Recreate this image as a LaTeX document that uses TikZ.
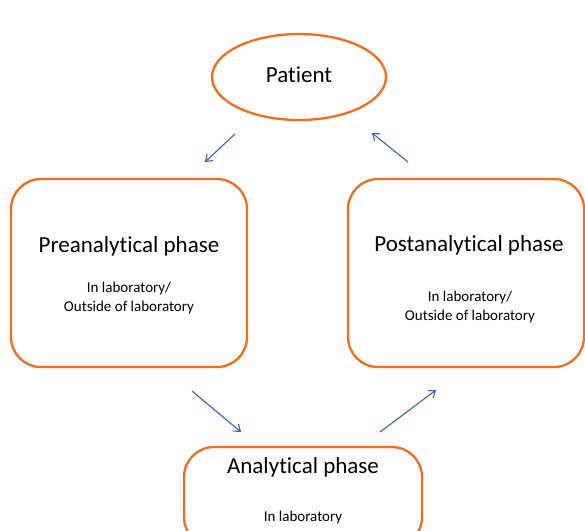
\documentclass[tikz,border=0pt]{standalone}
\usepackage{fontspec}
\setmainfont[Ligatures=NoCommon]{Carlito}
\usetikzlibrary{shapes.geometric,arrows.meta}
\definecolor{phaseorange}{RGB}{247,108,28}
\definecolor{flowblue}{RGB}{52,98,190}
\begin{document}
\begin{tikzpicture}[x=1pt,y=-1pt]
        \tikzstyle{phase}=[rectangle,rounded corners=30pt,draw=phaseorange,line width=2.3pt,fill=white,minimum width=236pt,minimum height=188pt]
        \tikzstyle{title}=[font=\fontsize{23}{26}\selectfont]
        \tikzstyle{place}=[font=\fontsize{15}{19}\selectfont,align=center]
        \tikzstyle{flow}=[draw,flowblue,line width=1.1pt,-{Straight Barb[length=6pt,width=9pt]}]
        \useasboundingbox (0,0) rectangle (585,530);
        \clip (0,0) rectangle (585,530);
       \begin{scope}
        \node [ellipse,draw=phaseorange,line width=2.3pt,minimum width=174pt,minimum height=86pt] (patient) at (299,77) {};
        \node [title] (patientlbl) at (299,75) {Patient};

        \node [phase] (pre) at (129,273) {};
        \node [title] (prelbl) at (129,246) {Preanalytical phase};
        \node [place] (preplace) at (129,298) {In laboratory/\\Outside of laboratory};

        \node [phase] (post) at (466,273) {};
        \node [title] (postlbl) at (469,245) {Postanalytical phase};
        \node [place] (postplace) at (470,307) {In laboratory/\\Outside of laboratory};

        \node [phase,minimum width=238pt,minimum height=100pt] (ana) at (303,497) {};
        \node [title] (analbl) at (303,467) {Analytical phase};
        \node [place] (anaplace) at (303,517) {In laboratory};

        \coordinate (a1) at (235,134);
        \coordinate (b1) at (205,162);
        \coordinate (a2) at (192,391);
        \coordinate (b2) at (241,432);
        \coordinate (a3) at (380,432);
        \coordinate (b3) at (436,390);
        \coordinate (a4) at (408,162);
        \coordinate (b4) at (372,133);

        \path (a1) edge [flow] (b1);
        \path (a2) edge [flow] (b2);
        \path (a3) edge [flow] (b3);
        \path (a4) edge [flow] (b4);
        \end{scope}
      \end{tikzpicture}
\end{document}
